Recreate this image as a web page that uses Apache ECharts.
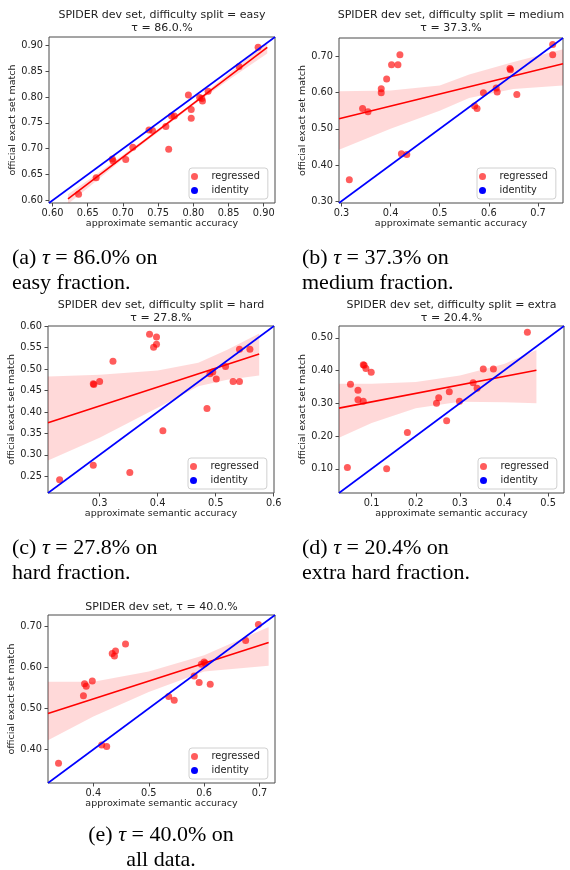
<!DOCTYPE html>
<html>
<head>
<meta charset="utf-8">
<script src="https://cdn.jsdelivr.net/npm/echarts@6/dist/echarts.min.js"></script>
<style>
  html, body { margin: 0; padding: 0; background: #fff; }
  #main { width: 570px; height: 870px; }
</style>
</head>
<body>
<div id="main"></div>
<script>
// ---- data ----
const easyX = [0.637, 0.662, 0.685, 0.686, 0.704, 0.714, 0.737, 0.742, 0.761, 0.765, 0.769, 0.773, 0.793, 0.797, 0.797, 0.809, 0.812, 0.813, 0.821, 0.865, 0.892];
const easyY = [0.612, 0.644, 0.680, 0.676, 0.679, 0.703, 0.736, 0.735, 0.743, 0.699, 0.763, 0.763, 0.804, 0.776, 0.759, 0.799, 0.797, 0.792, 0.811, 0.859, 0.896];
const easyFitX = [0.622, 0.905];
const easyFitY = [0.603, 0.896];
const easyBandX = [0.622, 0.66, 0.70, 0.75, 0.80, 0.85, 0.905];
const easyBandLo = [0.593, 0.635, 0.680, 0.732, 0.784, 0.833, 0.884];
const easyBandHi = [0.612, 0.648, 0.688, 0.738, 0.790, 0.845, 0.907];
const easyRange = [0.595, 0.916];
const easyXTicks = ['0.60', '0.65', '0.70', '0.75', '0.80', '0.85', '0.90'];
const easyYTicks = ['0.60', '0.65', '0.70', '0.75', '0.80', '0.85', '0.90'];

const mediumX = [0.316, 0.343, 0.354, 0.381, 0.381, 0.392, 0.402, 0.415, 0.419, 0.422, 0.433, 0.571, 0.576, 0.589, 0.615, 0.617, 0.643, 0.644, 0.657, 0.730, 0.730];
const mediumY = [0.359, 0.556, 0.547, 0.611, 0.600, 0.638, 0.677, 0.677, 0.705, 0.431, 0.429, 0.563, 0.556, 0.600, 0.613, 0.602, 0.667, 0.663, 0.595, 0.733, 0.705];
const mediumFitX = [0.295, 0.751];
const mediumFitY = [0.528, 0.680];
const mediumBandX = [0.295, 0.40, 0.50, 0.56, 0.65, 0.751];
const mediumBandLo = [0.4425, 0.50, 0.55, 0.585, 0.61, 0.62];
const mediumBandHi = [0.604, 0.606, 0.62, 0.65, 0.685, 0.72];
const mediumRange = [0.295, 0.751];
const mediumXTicks = ['0.3', '0.4', '0.5', '0.6', '0.7'];
const mediumYTicks = ['0.30', '0.40', '0.50', '0.60', '0.70'];

const hardX = [0.231, 0.289, 0.289, 0.290, 0.300, 0.323, 0.352, 0.386, 0.393, 0.398, 0.398, 0.409, 0.485, 0.490, 0.495, 0.501, 0.517, 0.530, 0.541, 0.541, 0.559];
const hardY = [0.242, 0.276, 0.466, 0.464, 0.471, 0.518, 0.259, 0.581, 0.551, 0.575, 0.558, 0.356, 0.408, 0.489, 0.493, 0.477, 0.506, 0.471, 0.471, 0.546, 0.546];
const hardFitX = [0.211, 0.575];
const hardFitY = [0.375, 0.535];
const hardBandX = [0.211, 0.30, 0.40, 0.47, 0.52, 0.575];
const hardBandLo = [0.287, 0.34, 0.41, 0.46, 0.475, 0.485];
const hardBandHi = [0.483, 0.487, 0.497, 0.515, 0.545, 0.583];
const hardRange = [0.211, 0.6005];
const hardXTicks = ['0.3', '0.4', '0.5', '0.6'];
const hardYTicks = ['0.25', '0.30', '0.35', '0.40', '0.45', '0.50', '0.55', '0.60'];

const extraX = [0.045, 0.052, 0.069, 0.069, 0.081, 0.083, 0.087, 0.081, 0.099, 0.134, 0.181, 0.247, 0.252, 0.270, 0.276, 0.299, 0.330, 0.339, 0.353, 0.376, 0.453];
const extraY = [0.104, 0.358, 0.340, 0.311, 0.418, 0.416, 0.406, 0.306, 0.395, 0.100, 0.211, 0.300, 0.317, 0.247, 0.335, 0.306, 0.363, 0.346, 0.405, 0.405, 0.517];
const extraFitX = [0.026, 0.4735];
const extraFitY = [0.2853, 0.4008];
const extraBandX = [0.026, 0.1, 0.2, 0.3, 0.4, 0.4735];
const extraBandLo = [0.195, 0.24, 0.285, 0.305, 0.303, 0.300];
const extraBandHi = [0.360, 0.360, 0.365, 0.385, 0.42, 0.4625];
const extraRange = [0.026, 0.536];
const extraXTicks = ['0.1', '0.2', '0.3', '0.4', '0.5'];
const extraYTicks = ['0.10', '0.20', '0.30', '0.40', '0.50'];

const allX = [0.337, 0.382, 0.384, 0.387, 0.398, 0.415, 0.424, 0.434, 0.438, 0.440, 0.458, 0.536, 0.546, 0.582, 0.591, 0.595, 0.600, 0.602, 0.611, 0.675, 0.698];
const allY = [0.366, 0.531, 0.560, 0.554, 0.567, 0.411, 0.407, 0.634, 0.628, 0.640, 0.657, 0.529, 0.520, 0.579, 0.563, 0.608, 0.613, 0.610, 0.559, 0.666, 0.705];
const allFitX = [0.318, 0.7165];
const allFitY = [0.4877, 0.6607];
const allBandX = [0.318, 0.4, 0.5, 0.6, 0.7165];
const allBandLo = [0.4225, 0.48, 0.54, 0.59, 0.604];
const allBandHi = [0.565, 0.565, 0.59, 0.63, 0.6985];
const allRange = [0.318, 0.728];
const allXTicks = ['0.4', '0.5', '0.6', '0.7'];
const allYTicks = ['0.40', '0.50', '0.60', '0.70'];

const panelTitles = [
  'SPIDER dev set, difficulty split = easy\nτ = 86.0.%',
  'SPIDER dev set, difficulty split = medium\nτ = 37.3.%',
  'SPIDER dev set, difficulty split = hard\nτ = 27.8.%',
  'SPIDER dev set, difficulty split = extra\nτ = 20.4.%',
  'SPIDER dev set, τ = 40.0.%',
];
const captions = [
  '(a) {i|τ} = 86.0% on\neasy fraction.',
  '(b) {i|τ} = 37.3% on\nmedium fraction.',
  '(c) {i|τ} = 27.8% on\nhard fraction.',
  '(d) {i|τ} = 20.4% on\nextra hard fraction.',
  '(e) {i|τ} = 40.0% on\nall data.',
];

// ---- layout ----
const panels = [
  { x: easyX, y: easyY, fitX: easyFitX, fitY: easyFitY, bandX: easyBandX, bandLo: easyBandLo, bandHi: easyBandHi, range: easyRange, xTicks: easyXTicks, yTicks: easyYTicks,
    grid: { left: 49, top: 37, width: 226, height: 166 }, titleTop: 8.5, cap: { x: 12, y: 246, align: 'left' } },
  { x: mediumX, y: mediumY, fitX: mediumFitX, fitY: mediumFitY, bandX: mediumBandX, bandLo: mediumBandLo, bandHi: mediumBandHi, range: mediumRange, xTicks: mediumXTicks, yTicks: mediumYTicks,
    grid: { left: 339, top: 38, width: 224, height: 165 }, titleTop: 8.5, cap: { x: 302, y: 246, align: 'left' } },
  { x: hardX, y: hardY, fitX: hardFitX, fitY: hardFitY, bandX: hardBandX, bandLo: hardBandLo, bandHi: hardBandHi, range: hardRange, xTicks: hardXTicks, yTicks: hardYTicks,
    grid: { left: 48, top: 326, width: 226, height: 167 }, titleTop: 298.5, cap: { x: 12, y: 536, align: 'left' } },
  { x: extraX, y: extraY, fitX: extraFitX, fitY: extraFitY, bandX: extraBandX, bandLo: extraBandLo, bandHi: extraBandHi, range: extraRange, xTicks: extraXTicks, yTicks: extraYTicks,
    grid: { left: 339, top: 326, width: 225, height: 167 }, titleTop: 298.5, cap: { x: 302, y: 536, align: 'left' } },
  { x: allX, y: allY, fitX: allFitX, fitY: allFitY, bandX: allBandX, bandLo: allBandLo, bandHi: allBandHi, range: allRange, xTicks: allXTicks, yTicks: allYTicks,
    grid: { left: 48, top: 615, width: 227, height: 168 }, titleTop: 601, cap: { x: 161, y: 823, align: 'center' } },
];

const SANS = 'DejaVu Sans';
const SERIF = 'Liberation Serif';
const TEXT = '#222';
const FRAME = '#4a4a4a';

function tickFormatter(ticks) {
  return (v) => {
    const hit = ticks.find(t => Math.abs(Number(t) - v) < 1e-9);
    return hit === undefined ? '' : hit;
  };
}

function axis(p, i, ticks, name, isX) {
  const values = ticks.map(Number);
  return {
    type: 'value',
    gridIndex: i,
    min: p.range[0],
    max: p.range[1],
    axisLine: { show: false, onZero: false },
    axisTick: { show: true, length: 3.5, customValues: values, lineStyle: { color: FRAME, width: 1 } },
    axisLabel: {
      customValues: values,
      formatter: tickFormatter(ticks),
      fontFamily: SANS, fontSize: 9.8, color: TEXT,
      margin: isX ? 5 : 6,
    },
    splitLine: { show: false },
    name,
    nameLocation: 'middle',
    nameGap: isX ? 16 : 29,
    nameRotate: isX ? 0 : 90,
    nameTextStyle: { fontFamily: SANS, fontSize: 9.5, color: TEXT },
  };
}

const grids = [];
const xAxes = [];
const yAxes = [];
const series = [];
const legends = [];
const graphics = [];

panels.forEach((p, i) => {
  const g = p.grid;
  grids.push({
    left: g.left, top: g.top, width: g.width, height: g.height,
    show: true, borderColor: FRAME, borderWidth: 1, backgroundColor: 'transparent',
    containLabel: false, outerBoundsMode: 'none',
  });
  xAxes.push(axis(p, i, p.xTicks, 'approximate semantic accuracy', true));
  yAxes.push(axis(p, i, p.yTicks, 'official exact set match', false));

  // confidence band
  series.push({
    type: 'custom',
    xAxisIndex: i, yAxisIndex: i,
    silent: true, z: 1, clip: true,
    data: p.bandX.map((x, k) => [x, p.bandLo[k], p.bandHi[k]]),
    encode: { x: 0, y: [1, 2] },
    renderItem: (params, api) => {
      if (params.dataIndex !== 0) return null;
      const upper = p.bandX.map((x, k) => api.coord([x, p.bandHi[k]]));
      const lower = p.bandX.map((x, k) => api.coord([x, p.bandLo[k]])).reverse();
      return {
        type: 'polygon',
        shape: { points: upper.concat(lower) },
        style: { fill: 'rgba(255,0,0,0.15)' },
      };
    },
  });
  series.push({
    name: 'regressed',
    type: 'scatter',
    xAxisIndex: i, yAxisIndex: i,
    z: 2,
    symbolSize: 7,
    itemStyle: { color: 'rgba(255,0,0,0.8)' },
    data: p.x.map((x, k) => [x, p.y[k]]),
  });
  series.push({
    type: 'line',
    xAxisIndex: i, yAxisIndex: i,
    z: 3,
    showSymbol: false,
    lineStyle: { color: '#ff0000', width: 1.6 },
    data: p.fitX.map((x, k) => [x, p.fitY[k]]),
  });
  series.push({
    name: 'identity',
    type: 'line',
    xAxisIndex: i, yAxisIndex: i,
    z: 4,
    showSymbol: false,
    color: '#0000ff',
    itemStyle: { color: '#0000ff' },
    lineStyle: { color: '#0000ff', width: 1.6 },
    data: [[p.range[0], p.range[0]], [p.range[1], p.range[1]]],
  });

  legends.push({
    data: ['regressed', 'identity'],
    orient: 'vertical',
    left: g.left + g.width - 86,
    bottom: 870 - (g.top + g.height - 4),
    icon: 'circle',
    itemWidth: 24,
    itemHeight: 7,
    itemGap: 3,
    selectedMode: false,
    padding: [3, 8, 3, 2],
    borderColor: '#d0d0d0',
    borderWidth: 1,
    borderRadius: 3,
    backgroundColor: 'rgba(255,255,255,0.8)',
    textStyle: { fontFamily: SANS, fontSize: 9.8, color: TEXT, lineHeight: 11 },
  });

  graphics.push({
    type: 'text',
    x: g.left + g.width / 2,
    y: p.titleTop,
    style: {
      text: panelTitles[i],
      fill: TEXT,
      fontFamily: SANS,
      fontSize: 11,
      lineHeight: 13,
      align: 'center',
      verticalAlign: 'top',
    },
  });
  graphics.push({
    type: 'text',
    x: p.cap.x,
    y: p.cap.y,
    style: {
      text: captions[i],
      fill: '#000',
      fontFamily: SERIF,
      fontSize: 22,
      lineHeight: 25,
      align: p.cap.align,
      verticalAlign: 'top',
      rich: {
        i: { fontFamily: SERIF, fontSize: 22, fontStyle: 'italic', fill: '#000', lineHeight: 25 },
      },
    },
  });
});

const chart = echarts.init(document.getElementById('main'), null, { renderer: 'canvas' });
chart.setOption({
  animation: false,
  backgroundColor: '#fff',
  grid: grids,
  xAxis: xAxes,
  yAxis: yAxes,
  legend: legends,
  series,
  graphic: graphics,
});
</script>
</body>
</html>
